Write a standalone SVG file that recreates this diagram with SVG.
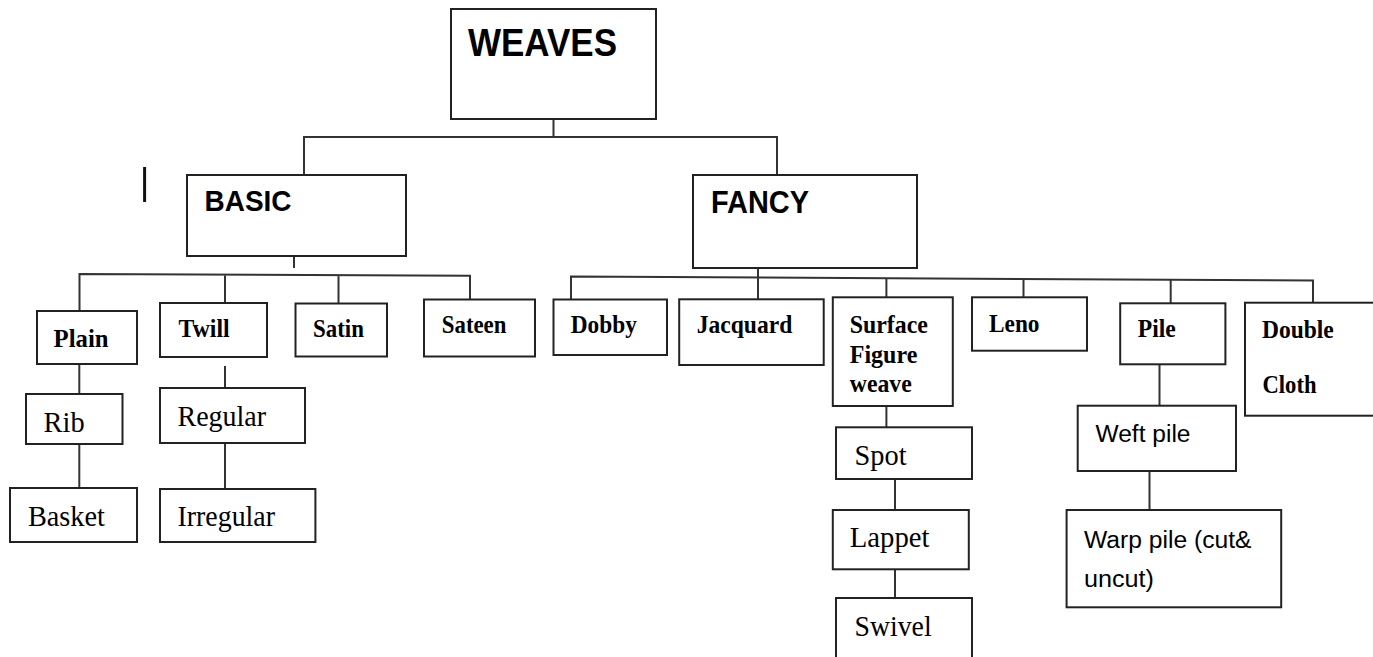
<svg xmlns="http://www.w3.org/2000/svg" width="1373" height="657" viewBox="0 0 1373 657">
<style>
.box{fill:#fff;stroke:#222;stroke-width:2}
.con{fill:none;stroke:#333;stroke-width:2}
.h{font-family:"Liberation Sans",Arial,sans-serif;font-weight:bold;fill:#000}
.sb{font-family:"Liberation Serif","Times New Roman",serif;font-weight:bold;font-size:25px;fill:#000}
.sr{font-family:"Liberation Serif","Times New Roman",serif;font-size:29px;fill:#000}
.ss{font-family:"Liberation Sans",Arial,sans-serif;font-size:23px;fill:#000}
</style>
<rect width="1373" height="657" fill="#fff"/>
<g id="connectors" class="con">
<path d="M553.5 119V137M304 175V137H777V175"/>
<path d="M294 256.5V268"/>
<path d="M79.5 311V274L470 275.7V299.5M225 275V303M338.5 275V303.5"/>
<path d="M79.3 364V394M79.3 444V488"/>
<path d="M225 366V388M225 443V489"/>
<path d="M758 268V299.3"/>
<path d="M571 299.5V276.5L1313 280.5V306"/>
<path d="M886.4 278V297.3M1023.5 279V305M1170.7 279.5V306"/>
<path d="M886.4 402V431"/>
<path d="M895 479V510M895 569.3V598"/>
<path d="M1159.5 364.3V405.7M1149.5 471V510"/>
</g>
<line x1="144.6" y1="167" x2="144.6" y2="202" stroke="#111" stroke-width="3"/>
<g id="weaves"><rect class="box" x="451" y="9" width="205" height="110"/><text class="h" x="468" y="56" font-size="38" textLength="149" lengthAdjust="spacingAndGlyphs">WEAVES</text></g>
<g id="basic"><rect class="box" x="187" y="175" width="219" height="81"/><text class="h" x="204.5" y="211" font-size="30" textLength="87" lengthAdjust="spacingAndGlyphs">BASIC</text></g>
<g id="fancy"><rect class="box" x="693" y="175" width="224" height="93"/><text class="h" x="711" y="213" font-size="31.5" textLength="98" lengthAdjust="spacingAndGlyphs">FANCY</text></g>
<g id="plain"><rect class="box" x="37" y="311" width="100" height="53"/><text class="sb" x="53.6" y="347" textLength="55" lengthAdjust="spacingAndGlyphs">Plain</text></g>
<g id="rib"><rect class="box" x="26" y="394" width="96.5" height="50"/><text class="sr" x="43.6" y="431.7" textLength="41" lengthAdjust="spacingAndGlyphs">Rib</text></g>
<g id="basket"><rect class="box" x="10" y="488" width="127" height="54"/><text class="sr" x="27.9" y="526" textLength="77" lengthAdjust="spacingAndGlyphs">Basket</text></g>
<g id="twill"><rect class="box" x="160" y="303" width="107" height="54"/><text class="sb" x="178.6" y="337.3" textLength="51" lengthAdjust="spacingAndGlyphs">Twill</text></g>
<g id="regular"><rect class="box" x="160" y="388" width="145" height="55"/><text class="sr" x="177.5" y="426" textLength="88.6" lengthAdjust="spacingAndGlyphs">Regular</text></g>
<g id="irregular"><rect class="box" x="160" y="489" width="155.4" height="53"/><text class="sr" x="177.5" y="526" textLength="97.5" lengthAdjust="spacingAndGlyphs">Irregular</text></g>
<g id="satin"><rect class="box" x="295.5" y="303.5" width="91.5" height="53"/><text class="sb" x="313" y="337" textLength="51" lengthAdjust="spacingAndGlyphs">Satin</text></g>
<g id="sateen"><rect class="box" x="424" y="299.5" width="111" height="57"/><text class="sb" x="441.8" y="333.3" textLength="64.6" lengthAdjust="spacingAndGlyphs">Sateen</text></g>
<g id="dobby"><rect class="box" x="553.5" y="299.5" width="113.5" height="55.5"/><text class="sb" x="570.8" y="333.3" textLength="66" lengthAdjust="spacingAndGlyphs">Dobby</text></g>
<g id="jacquard"><rect class="box" x="679.2" y="299.3" width="144.5" height="65.7"/><text class="sb" x="696.7" y="333.3" textLength="95.7" lengthAdjust="spacingAndGlyphs">Jacquard</text></g>
<g id="surface"><rect class="box" x="832.8" y="297.3" width="120" height="108.7"/><text class="sb" x="849.8" y="333" textLength="78" lengthAdjust="spacingAndGlyphs">Surface</text><text class="sb" x="849.8" y="362.5" textLength="67.5" lengthAdjust="spacingAndGlyphs">Figure</text><text class="sb" x="849.8" y="391.5" textLength="62" lengthAdjust="spacingAndGlyphs">weave</text></g>
<g id="leno"><rect class="box" x="972" y="297.3" width="115" height="53.4"/><text class="sb" x="989" y="331.7" textLength="50.5" lengthAdjust="spacingAndGlyphs">Leno</text></g>
<g id="pile"><rect class="box" x="1120.2" y="303.3" width="105.2" height="61"/><text class="sb" x="1137.8" y="336.7" textLength="38" lengthAdjust="spacingAndGlyphs">Pile</text></g>
<g id="double"><rect class="box" x="1245" y="302.7" width="140" height="113"/><text class="sb" x="1262" y="338.3" textLength="71.7" lengthAdjust="spacingAndGlyphs">Double</text><text class="sb" x="1262.5" y="393.3" textLength="54" lengthAdjust="spacingAndGlyphs">Cloth</text></g>
<g id="weftpile"><rect class="box" x="1077.7" y="405.7" width="158.3" height="65.3"/><text class="ss" x="1095.5" y="441.7" textLength="95" lengthAdjust="spacingAndGlyphs">Weft pile</text></g>
<g id="warppile"><rect class="box" x="1066.6" y="510" width="214.6" height="97.3"/><text class="ss" x="1084" y="547.5" textLength="167.5" lengthAdjust="spacingAndGlyphs">Warp pile (cut&amp;</text><text class="ss" x="1084" y="586.7" textLength="70" lengthAdjust="spacingAndGlyphs">uncut)</text></g>
<g id="spot"><rect class="box" x="836" y="427.3" width="136" height="51.7"/><text class="sr" x="854.6" y="465" textLength="52" lengthAdjust="spacingAndGlyphs">Spot</text></g>
<g id="lappet"><rect class="box" x="832.8" y="510" width="136" height="59.3"/><text class="sr" x="849.8" y="547.3" textLength="79.7" lengthAdjust="spacingAndGlyphs">Lappet</text></g>
<g id="swivel"><rect class="box" x="836" y="598" width="136" height="70"/><text class="sr" x="854.6" y="636" textLength="77" lengthAdjust="spacingAndGlyphs">Swivel</text></g>
</svg>
